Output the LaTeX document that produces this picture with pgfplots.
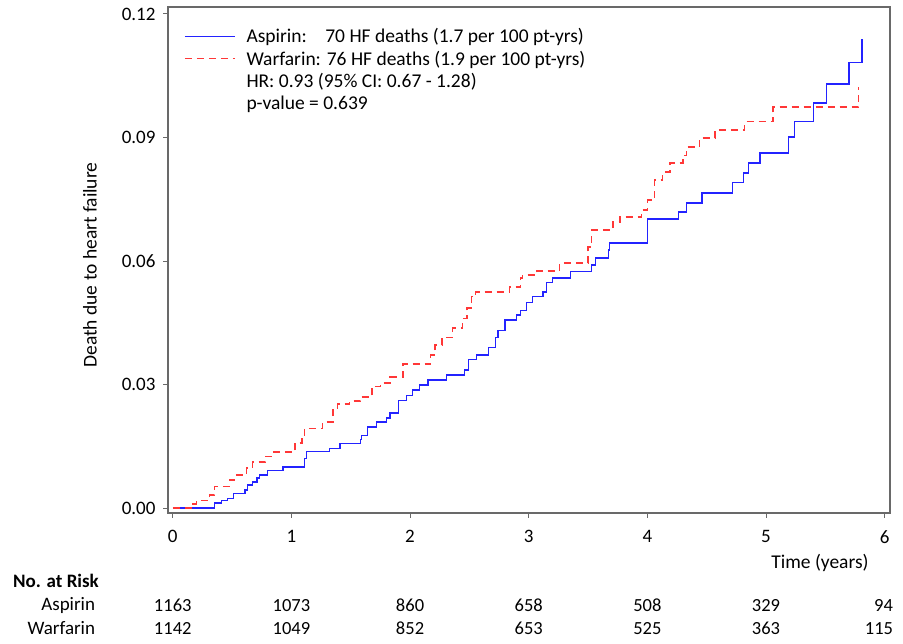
\documentclass[border=0pt]{standalone}
\usepackage{pgfplots}
\pgfplotsset{compat=1.18}
\usepackage{fontspec}
\setmainfont{Carlito}

\definecolor{aspblue}{RGB}{35,35,255}
\definecolor{warred}{RGB}{255,55,55}
\definecolor{framegray}{RGB}{105,105,105}

\begin{document}
\begin{tikzpicture}[risk/.style={font=\fontsize{18.5}{21}\selectfont}]
\begin{axis}[
    scale only axis, width=722pt, height=506pt,
    xmin=-0.04, xmax=6.045,
    ymin=-0.0012, ymax=0.1217,
    xtick={0,...,6},
    ytick={0,0.03,0.06,0.09,0.12},
    scaled y ticks=false,
    y tick label style={xshift=-4pt, /pgf/number format/fixed,
        /pgf/number format/fixed zerofill, /pgf/number format/precision=2},
    /pgf/number format/assume math mode=true,
    tick label style={font=\fontsize{19}{21}\selectfont},
    tick align=outside, xtick pos=lower, ytick pos=left,
    major tick length=5pt,
    axis line style={framegray, line width=1.2pt},
    tick style={framegray, line width=1pt},
    x tick label style={yshift=-9pt},
    ylabel={Death due to heart failure},
    ylabel style={at={(axis description cs:-0.108,0.49)}, anchor=center, font=\fontsize{19.5}{22}\selectfont},
    xlabel={Time (years)},
    xlabel style={at={(axis description cs:0.903,-0.099)}, anchor=center, font=\fontsize{19.5}{22}\selectfont},
    legend cell align=left,
    legend style={at={(axis description cs:0.018,0.966)}, anchor=north west,
        draw=none, fill=none, font=\fontsize{19.5}{22}\selectfont,
        row sep=2.8pt,
        /tikz/every odd column/.append style={column sep=9pt}},
    legend image code/.code={\draw[#1] (0pt,0pt) -- (50pt,0pt);},
    clip=false,
]
% page frame (903 x 644 around the plot area)
\path (rel axis cs:-0.2327,-0.2589) rectangle (rel axis cs:1.0180,1.0138);
% Aspirin
\addplot[const plot, color=aspblue, line width=1.3pt] coordinates {
(0,0) (0.35,0.0012) (0.41,0.0018) (0.46,0.0024) (0.51,0.0036) (0.61,0.0044)
(0.63,0.0056) (0.67,0.0063) (0.71,0.0073) (0.73,0.0080) (0.80,0.0092)
(0.93,0.0100) (1.11,0.0120) (1.13,0.0137) (1.32,0.0145) (1.41,0.0157)
(1.58,0.0166) (1.59,0.0177) (1.64,0.0197) (1.72,0.0209) (1.80,0.0219)
(1.83,0.0231) (1.90,0.0262) (1.97,0.0274) (2.02,0.0287) (2.08,0.0299)
(2.15,0.0311) (2.31,0.0323) (2.46,0.0335) (2.49,0.0360) (2.56,0.0372)
(2.66,0.0390) (2.72,0.0415) (2.74,0.0432) (2.80,0.0457) (2.90,0.0469)
(2.93,0.0480) (2.98,0.0500) (3.03,0.0513) (3.12,0.0525) (3.15,0.0547)
(3.20,0.0559) (3.35,0.0575) (3.53,0.0590) (3.56,0.0607) (3.67,0.0627)
(3.68,0.0644) (4.00,0.0702) (4.26,0.0719) (4.33,0.0741) (4.46,0.0765)
(4.72,0.0790) (4.81,0.0814) (4.85,0.0838) (4.95,0.0862) (5.19,0.0901)
(5.24,0.0938) (5.40,0.0984) (5.51,0.1030) (5.70,0.1083) (5.81,0.1139)
};
\addlegendentry{\rlap{Aspirin:}\hphantom{Warfarin:} 70 HF deaths (1.7 per 100 pt-yrs)}
% Warfarin
\addplot[const plot, color=warred, line width=1.3pt, dash pattern=on 7pt off 5pt] coordinates {
(0,0) (0.17,0.0010) (0.20,0.0019) (0.31,0.0032) (0.35,0.0053) (0.48,0.0068)
(0.52,0.0080) (0.62,0.0097) (0.67,0.0112) (0.78,0.0126) (0.83,0.0136)
(1.03,0.0158) (1.09,0.0172) (1.11,0.0194) (1.26,0.0209) (1.35,0.0243)
(1.39,0.0253) (1.49,0.0260) (1.58,0.0270) (1.68,0.0296) (1.75,0.0304)
(1.83,0.0318) (1.94,0.0350) (2.17,0.0372) (2.21,0.0396) (2.27,0.0415)
(2.36,0.0437) (2.44,0.0461) (2.48,0.0486) (2.52,0.0513) (2.55,0.0525)
(2.84,0.0537) (2.93,0.0559) (2.95,0.0566) (3.07,0.0576) (3.26,0.0595)
(3.50,0.0634) (3.53,0.0675) (3.71,0.0695) (3.77,0.0707) (3.95,0.0724)
(4.00,0.0748) (4.06,0.0797) (4.13,0.0816) (4.19,0.0838) (4.30,0.0857)
(4.33,0.0877) (4.44,0.0899) (4.57,0.0918) (4.82,0.0938) (5.06,0.0974)
(5.78,0.1023)
};
\addlegendentry{Warfarin: 76 HF deaths (1.9 per 100 pt-yrs)}
\addlegendimage{empty legend}
\addlegendentry{HR: 0.93 (95\% CI: 0.67 - 1.28)}
\addlegendimage{empty legend}
\addlegendentry{p-value = 0.639}

% numbers at risk
\node[anchor=west, font=\bfseries\fontsize{19}{21}\selectfont] at (axis cs:-1.375,-0.0178) {No. at Risk};
\node[anchor=east, font=\fontsize{19}{21}\selectfont] at (axis cs:-0.625,-0.0236) {Aspirin};
\node[anchor=east, font=\fontsize{19}{21}\selectfont] at (axis cs:-0.625,-0.0292) {Warfarin};
\node[risk] at (axis cs:0,-0.0236) {1163};
\node[risk] at (axis cs:1,-0.0236) {1073};
\node[risk] at (axis cs:2,-0.0236) {860};
\node[risk] at (axis cs:3,-0.0236) {658};
\node[risk] at (axis cs:4,-0.0236) {508};
\node[risk] at (axis cs:5,-0.0236) {329};
\node[risk, anchor=east] at (axis cs:6.1,-0.0236) {94};
\node[risk] at (axis cs:0,-0.0292) {1142};
\node[risk] at (axis cs:1,-0.0292) {1049};
\node[risk] at (axis cs:2,-0.0292) {852};
\node[risk] at (axis cs:3,-0.0292) {653};
\node[risk] at (axis cs:4,-0.0292) {525};
\node[risk] at (axis cs:5,-0.0292) {363};
\node[risk, anchor=east] at (axis cs:6.1,-0.0292) {115};
\end{axis}
\end{tikzpicture}
\end{document}
